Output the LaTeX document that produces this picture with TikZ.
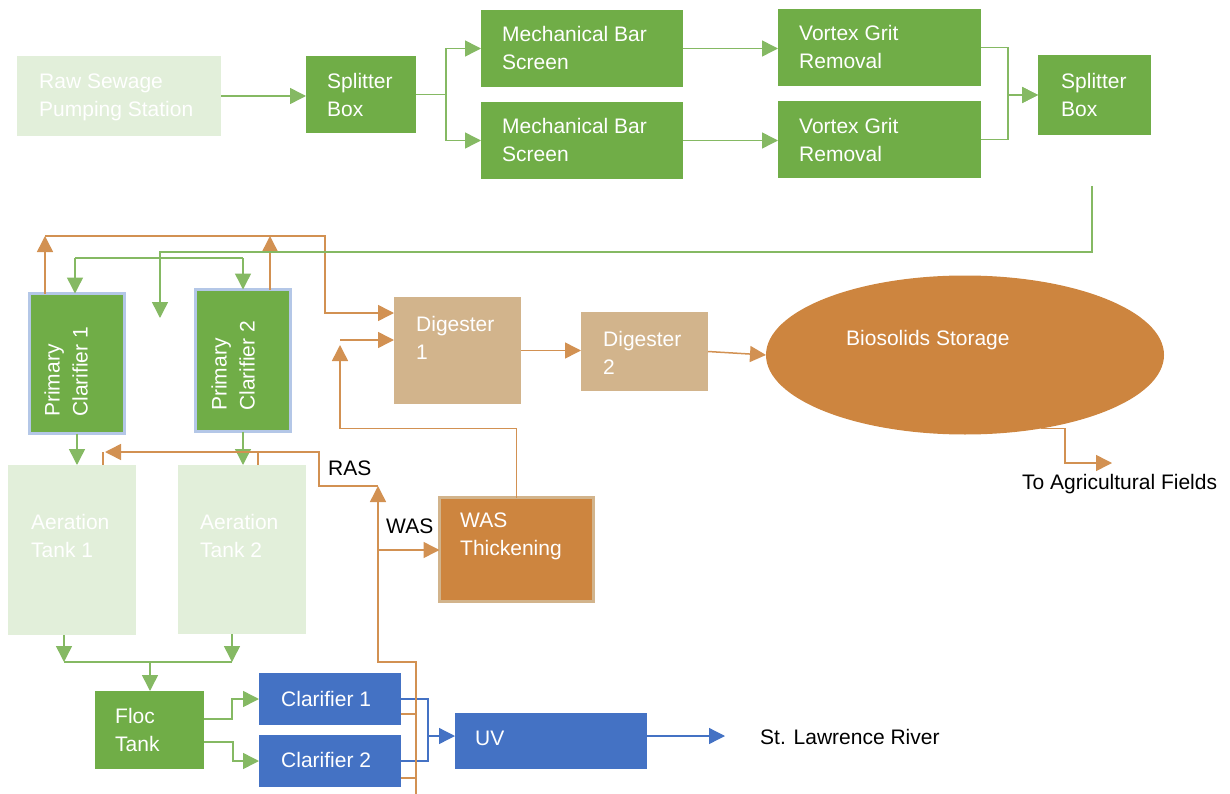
\documentclass[tikz,border=0pt]{standalone}
\usepackage{fontspec}
\setmainfont{Liberation Sans}
\usetikzlibrary{calc}
\usetikzlibrary{arrows.meta}
\usetikzlibrary{shapes.geometric}

\definecolor{leafgreen}{HTML}{70AD47}
\definecolor{palegreen}{HTML}{E2EFDA}
\definecolor{lineblue}{HTML}{4472C4}
\definecolor{sandtan}{HTML}{D2B48C}
\definecolor{sludge}{HTML}{CD853F}
\definecolor{edgeblue}{HTML}{B4C7E7}

\tikzset{
 box/.style={rectangle, inner sep=0pt, outer sep=0pt, anchor=north west},
 gbox/.style={box, fill=leafgreen},
 pbox/.style={box, fill=palegreen},
 bbox/.style={box, fill=lineblue},
 tbox/.style={box, fill=sandtan},
 wtxt/.style={text=white, align=left, anchor=west, inner sep=0pt, font=\fontsize{21}{28}\selectfont},
 btxt/.style={wtxt, text=black},
 tip/.style={-{Triangle[length=16pt,width=16pt]}},
 gline/.style={leafgreen!85, line width=1.5pt},
 oline/.style={sludge!90, line width=1.5pt},
 bline/.style={lineblue, line width=1.3pt},
}

\begin{document}
\begin{tikzpicture}[x=1pt,y=-1pt]
\useasboundingbox (0,0) rectangle (1230,794);

\node[pbox, minimum width=204pt, minimum height=80pt] (raw) at (17,56) {};
\node[wtxt] (rawt) at (39,97) {Raw Sewage\\Pumping Station};
\node[gbox, minimum width=110pt, minimum height=77pt] (spl1) at (306,56) {};
\node[wtxt] (spl1t) at (327,95) {Splitter\\Box};
\node[gbox, minimum width=202pt, minimum height=77pt] (msc1) at (481,10) {};
\node[wtxt] (msc1t) at (502,48) {Mechanical Bar\\Screen};
\node[gbox, minimum width=202pt, minimum height=77pt] (msc2) at (481,102) {};
\node[wtxt] (msc2t) at (502,140) {Mechanical Bar\\Screen};
\node[gbox, minimum width=203pt, minimum height=77pt] (vgr1) at (778,9) {};
\node[wtxt] (vgr1t) at (799,47) {Vortex Grit\\Removal};
\node[gbox, minimum width=203pt, minimum height=77pt] (vgr2) at (778,101) {};
\node[wtxt] (vgr2t) at (799,140) {Vortex Grit\\Removal};
\node[gbox, minimum width=113pt, minimum height=80pt] (spl2) at (1038,55) {};
\node[wtxt] (spl2t) at (1061,95) {Splitter\\Box};

\node[gbox, draw=edgeblue, line width=3pt, minimum width=95pt, minimum height=140pt] (pc1) at (29.5,293.5) {};
\node[wtxt, rotate=90] (pc1t) at (66,417) {Primary\\Clarifier 1};
\node[gbox, draw=edgeblue, line width=3pt, minimum width=95pt, minimum height=142pt] (pc2) at (195.5,289.5) {};
\node[wtxt, rotate=90] (pc2t) at (233,411) {Primary\\Clarifier 2};

\node[pbox, minimum width=128pt, minimum height=170pt] (aer1) at (8,465) {};
\node[wtxt] (aer1t) at (31,536) {Aeration\\Tank 1};
\node[pbox, minimum width=128pt, minimum height=169pt] (aer2) at (178,465) {};
\node[wtxt] (aer2t) at (200,536) {Aeration\\Tank 2};
\node[gbox, minimum width=109pt, minimum height=78pt] (floc) at (95,691) {};
\node[wtxt] (floct) at (115,730) {Floc\\Tank};
\node[bbox, minimum width=142pt, minimum height=52pt] (cl1) at (259,673) {};
\node[wtxt] (cl1t) at (281,699) {Clarifier 1};
\node[bbox, minimum width=142pt, minimum height=52pt] (cl2) at (259,735) {};
\node[wtxt] (cl2t) at (281,760) {Clarifier 2};
\node[bbox, minimum width=192pt, minimum height=56pt] (uv) at (455,713) {};
\node[wtxt] (uvt) at (475,738) {UV};
\node[btxt] (river) at (760,737) {St. Lawrence River};

\node[tbox, minimum width=127pt, minimum height=107pt] (dig1) at (394,297) {};
\node[wtxt] (dig1t) at (416,338) {Digester\\1};
\node[tbox, minimum width=127pt, minimum height=79pt] (dig2) at (581,312) {};
\node[wtxt] (dig2t) at (603,353) {Digester\\2};
\node[ellipse, fill=sludge, inner sep=0pt, outer sep=0pt, minimum width=398pt, minimum height=159pt] (bio) at (965,355) {};
\node[wtxt] (biot) at (846,340) {Biosolids Storage};
\node[btxt] (agri) at (1022,484) {To Agricultural Fields};
\node[box, fill=sludge, draw=sandtan, line width=3pt, minimum width=154pt, minimum height=104pt] (wast) at (439.5,497.5) {};
\node[wtxt] (wastt) at (460,536) {WAS\\Thickening};
\node[btxt] (ras) at (328,468) {RAS};
\node[btxt] (was) at (386,526) {WAS};

\coordinate (s2out) at (1092,186);
\coordinate (pcin) at (160,318);
\coordinate (gl) at (75,258);
\coordinate (gr) at (243,258);
\coordinate (otl) at (45,236);
\coordinate (otm) at (270,236);
\coordinate (d1b) at (340,340);
\coordinate (agend) at (1112,463);
\coordinate (wbot) at (416,794);
\coordinate (rasup) at (378,486);
\coordinate (rasend) at (105,452);
\coordinate (r1) at (103,452);
\coordinate (r2) at (258,452);
\coordinate (wasin) at (379,550);
\coordinate (fl) at (64,662);
\coordinate (fr) at (232,662);
\coordinate (fm) at (150,662);
\coordinate (bj) at (428,736);
\coordinate (rivend) at (725,736);

\draw[oline, tip] (otl |- pc1.north) -- (otl);
\draw[oline, tip] (otm |- pc2.north) -- (otm);
\draw[oline, tip] (otl) -- ++(280,0) |- ($(dig1.north west)+(0,16)$);
\draw[oline, tip] (wast.north) -- ++(0,-69) -| ($(d1b)+(0,5)$);
\draw[oline, tip] (d1b) -- (d1b -| dig1.west);
\draw[oline, tip] (dig1.east) -- (dig1.east -| dig2.west);
\draw[oline, tip] (dig2.east) -- (bio.west);
\draw[oline, tip] (bio.-44) -- ++(24,0) |- (agend);

\draw[gline, tip] (raw.east) -- (raw.east -| spl1.west);
\draw[gline, tip] (spl1.east) -- ++(30,0) |- (msc1.west);
\draw[gline, tip] (spl1.east) -- ++(30,0) |- (msc2.west);
\draw[gline, tip] (msc1.east) -- (msc1.east -| vgr1.west);
\draw[gline, tip] (msc2.east) -- (msc2.east -| vgr2.west);
\draw[gline, tip] (vgr1.east) -- ++(27,0) |- (spl2.west);
\draw[gline, tip] (vgr2.east) -- ++(27,0) |- (spl2.west);
\draw[gline, tip] (s2out) -- ++(0,66) -| (pcin);
\draw[gline] (gl) -- (gr);
\draw[gline, tip] (gl) -- (gl |- pc1.north);
\draw[gline, tip] (gr) -- (gr |- pc2.north);
\draw[gline, tip] (pc1.south) -- (pc1.south |- aer1.north);
\draw[gline, tip] (pc2.south) -- (pc2.south |- aer2.north);
\draw[gline, tip] (fl |- aer1.south) -- (fl);
\draw[gline, tip] (fr |- aer2.south) -- (fr);
\draw[gline] (fl) -- (fr);
\draw[gline, tip] (fm) -- (fm |- floc.north);
\draw[gline, tip] ($(floc.east)+(0,-11)$) -- ++(28,0) |- (cl1.west);
\draw[gline, tip] ($(floc.east)+(0,12)$) -- ++(29,0) |- (cl2.west);

\draw[bline] (cl1.east) -- ++(27,0) |- (cl2.east);
\draw[bline, tip] (bj) -- (bj -| uv.west);
\draw[bline, tip] (uv.east |- rivend) -- (rivend);

\draw[oline] ($(cl1.south east)+(0,-11)$) -- ++(15,0);
\draw[oline] ($(cl2.south east)+(0,-9)$) -- ++(15,0);
\draw[oline, tip] (wbot) -- ++(0,-132) -| (rasup);
\draw[oline, tip] (rasup) -- ++(-59,0) |- (rasend);
\draw[oline] (r1) -- (r1 |- aer1.north);
\draw[oline] (r2) -- (r2 |- aer2.north);
\draw[oline, tip] (wasin) -- (wasin -| wast.west);
\end{tikzpicture}
\end{document}
